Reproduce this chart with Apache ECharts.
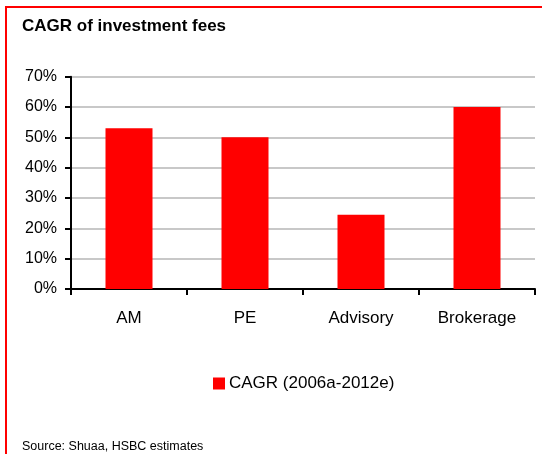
<!DOCTYPE html>
<html>
<head>
<meta charset="utf-8">
<style>
  html, body { margin: 0; padding: 0; background: #ffffff; }
  #chart { width: 542px; height: 454px; }
</style>
<script src="https://cdn.jsdelivr.net/npm/echarts@6/dist/echarts.min.js"></script>
</head>
<body>
<div id="chart"></div>
<script>
const titleText = 'CAGR of investment fees';
const sourceText = 'Source: Shuaa, HSBC estimates';
const seriesName = 'CAGR (2006a-2012e)';
const categories = ['AM', 'PE', 'Advisory', 'Brokerage'];
const cagrValues = [53, 50, 24.5, 60];
const yTicks = [0, 10, 20, 30, 40, 50, 60, 70];

const FONT = '"Liberation Sans", Arial, Helvetica, sans-serif';
const chart = echarts.init(document.getElementById('chart'), null, { renderer: 'canvas' });

chart.setOption({
  backgroundColor: '#ffffff',
  animation: false,
  grid: { left: 71, right: 7, top: 76.7, bottom: 165, containLabel: false },
  legend: {
    data: [seriesName],
    left: 208,
    top: 370,
    itemWidth: 12,
    itemHeight: 12,
    itemGap: 4,
    icon: 'rect',
    textStyle: { fontFamily: FONT, fontSize: 17, color: '#000000', padding: [0, 0, 0, -1] }
  },
  xAxis: {
    type: 'category',
    data: categories,
    boundaryGap: true,
    axisLine: { lineStyle: { color: '#000000', width: 2 } },
    axisTick: { show: true, length: 6, inside: false, lineStyle: { color: '#000000', width: 2 } },
    axisLabel: { fontFamily: FONT, fontSize: 17, color: '#000000', margin: 21 },
    splitLine: { show: false }
  },
  yAxis: {
    type: 'value',
    min: yTicks[0],
    max: yTicks[yTicks.length - 1],
    interval: 10,
    axisLine: { show: true, lineStyle: { color: '#000000', width: 2 } },
    axisTick: { show: true, length: 6, inside: false, lineStyle: { color: '#000000', width: 2 } },
    axisLabel: { fontFamily: FONT, fontSize: 16, color: '#000000', margin: 14, formatter: '{value}%' },
    splitLine: { show: true, lineStyle: { color: '#c8c8c8', width: 2 } }
  },
  series: [{
    name: seriesName,
    type: 'bar',
    data: cagrValues,
    barWidth: 47,
    itemStyle: { color: '#ff0000' }
  }],
  graphic: [
    { type: 'line', shape: { x1: 6, y1: 7, x2: 542, y2: 7 }, style: { stroke: '#ff0000', lineWidth: 2 }, silent: true },
    { type: 'line', shape: { x1: 6, y1: 6, x2: 6, y2: 454 }, style: { stroke: '#ff0000', lineWidth: 2 }, silent: true },
    { type: 'text', x: 22, y: 26, style: { text: titleText, font: 'bold 17px ' + FONT, fill: '#000000', verticalAlign: 'middle' } },
    { type: 'text', x: 22, y: 447, style: { text: sourceText, font: '12.5px ' + FONT, fill: '#000000', verticalAlign: 'middle' } }
  ]
});
</script>
</body>
</html>
